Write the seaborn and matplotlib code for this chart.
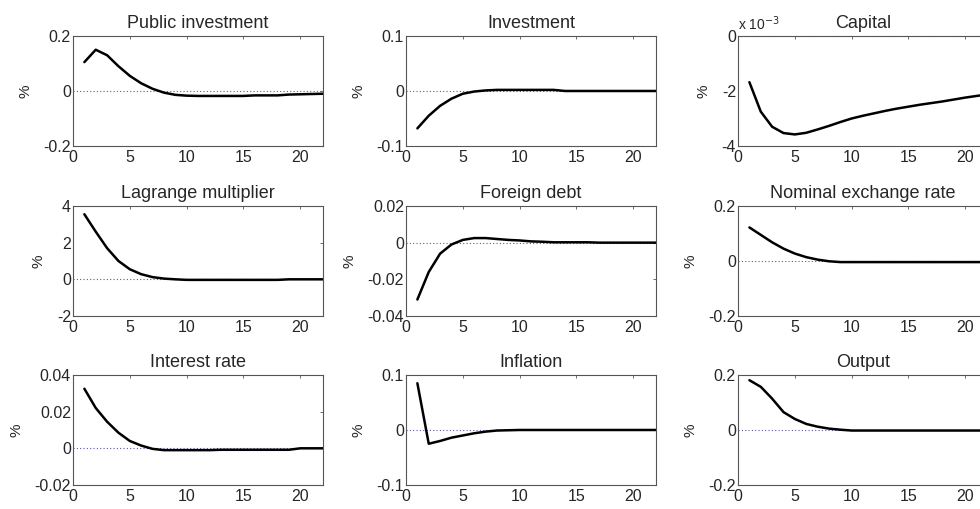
import matplotlib
matplotlib.use("Agg")
import matplotlib.pyplot as plt
import matplotlib.ticker as mticker
import seaborn as sns
import pandas as pd

sns.set_style("white")
plt.rcParams['font.family'] = ['Liberation Sans', 'DejaVu Sans']

periods = list(range(1, 23))

public_investment = [0.105, 0.15, 0.13, 0.09, 0.055, 0.028, 0.008, -0.006, -0.014, -0.017,
                     -0.018, -0.018, -0.018, -0.018, -0.018, -0.016, -0.016, -0.016,
                     -0.013, -0.012, -0.011, -0.01]
investment = [-0.068, -0.045, -0.027, -0.014, -0.005, -0.001, 0.001, 0.002, 0.002, 0.002,
              0.002, 0.002, 0.002, 0.0, 0.0, 0.0, 0.0, 0.0, 0.0, 0.0, 0.0, 0.0]
capital = [-0.00168, -0.00275, -0.0033, -0.00353, -0.00358, -0.00352, -0.0034, -0.00327,
           -0.00313, -0.003, -0.0029, -0.00281, -0.00272, -0.00264, -0.00257, -0.0025,
           -0.00244, -0.00238, -0.00231, -0.00224, -0.00218, -0.00212]
lagrange = [3.55, 2.6, 1.7, 1.0, 0.55, 0.28, 0.12, 0.04, 0.0, -0.03, -0.03, -0.03, -0.03,
            -0.03, -0.03, -0.03, -0.03, -0.03, 0.0, 0.0, 0.0, 0.0]
foreign_debt = [-0.031, -0.016, -0.006, -0.001, 0.0015, 0.0025, 0.0025, 0.002, 0.0015,
                0.0012, 0.0007, 0.0005, 0.0002, 0.0002, 0.0002, 0.0002, 0.0, 0.0, 0.0,
                0.0, 0.0, 0.0]
exchange_rate = [0.122, 0.095, 0.068, 0.045, 0.027, 0.014, 0.005, -0.001, -0.004, -0.004,
                 -0.004, -0.004, -0.004, -0.004, -0.004, -0.004, -0.004, -0.004, -0.004,
                 -0.004, -0.004, -0.004]
interest_rate = [0.0325, 0.022, 0.0145, 0.0085, 0.004, 0.0015, -0.0003, -0.001, -0.001,
                 -0.001, -0.001, -0.001, -0.0008, -0.0008, -0.0008, -0.0008, -0.0008,
                 -0.0008, -0.0008, 0.0, 0.0, 0.0]
inflation = [0.085, -0.025, -0.02, -0.014, -0.01, -0.006, -0.003, -0.001, -0.0005, 0.0,
             0.0, 0.0, 0.0, 0.0, 0.0, 0.0, 0.0, 0.0, 0.0, 0.0, 0.0, 0.0]
output = [0.181, 0.157, 0.114, 0.065, 0.04, 0.022, 0.012, 0.005, 0.001, -0.002, -0.002,
          -0.002, -0.002, -0.002, -0.002, -0.002, -0.002, -0.002, -0.002, -0.002, -0.002,
          -0.002]

titles = ["Public investment", "Investment", "Capital",
          "Lagrange multiplier", "Foreign debt", "Nominal exchange rate",
          "Interest rate", "Inflation", "Output"]
series = [public_investment, investment, capital,
          lagrange, foreign_debt, exchange_rate,
          interest_rate, inflation, output]
ylims = [(-0.2, 0.2), (-0.1, 0.1), (-0.004, 0.0),
         (-2, 4), (-0.04, 0.02), (-0.2, 0.2),
         (-0.02, 0.04), (-0.1, 0.1), (-0.2, 0.2)]
yticks = [[-0.2, 0, 0.2], [-0.1, 0, 0.1], [-0.004, -0.002, 0.0],
          [-2, 0, 2, 4], [-0.04, -0.02, 0, 0.02], [-0.2, 0, 0.2],
          [-0.02, 0, 0.02, 0.04], [-0.1, 0, 0.1], [-0.2, 0, 0.2]]

fig = plt.figure(figsize=(9.8, 5.09), dpi=100)

col_left = [0.0745, 0.4143, 0.7531]
row_bottom = [0.7132, 0.3792, 0.0472]
w, h = 0.2551, 0.2161

spine_col = "#555555"

def fmt_tick(v, pos):
    s = "%g" % v
    return "0" if s in ("-0", "0") else s

for i, (title, vals) in enumerate(zip(titles, series)):
    r, c = divmod(i, 3)
    ax = fig.add_axes([col_left[c], row_bottom[r], w, h])
    df = pd.DataFrame({"t": periods, "v": vals})
    ax.axhline(0, color="#5a5aa8", linestyle=(0, (1, 2)), linewidth=0.8, zorder=1)
    sns.lineplot(data=df, x="t", y="v", ax=ax, color="black", linewidth=1.8, zorder=3)
    ax.set_xlim(0, 22)
    ax.set_ylim(*ylims[i])
    ax.set_xticks([0, 5, 10, 15, 20])
    ax.set_yticks(yticks[i])
    if title == "Capital":
        ax.yaxis.set_major_formatter(mticker.FuncFormatter(lambda v, p: "%g" % round(v * 1000)))
        ax.text(0.0, 1.03, r"x 10$^{-3}$", transform=ax.transAxes, fontsize=10,
                ha="left", va="bottom")
    else:
        ax.yaxis.set_major_formatter(mticker.FuncFormatter(fmt_tick))
    ax.set_title(title, fontsize=13, pad=6)
    ax.set_xlabel("")
    ax.set_ylabel("%", fontsize=11, labelpad=8)
    ax.tick_params(direction="in", length=2.5, width=0.6, color=spine_col,
                   top=True, right=True, labelsize=11.5)
    ax.tick_params(axis="y", pad=1.5)
    ax.tick_params(axis="x", pad=3)
    for sp in ax.spines.values():
        sp.set_color(spine_col)
        sp.set_linewidth(0.8)

fig.savefig("out.png", dpi=100)
